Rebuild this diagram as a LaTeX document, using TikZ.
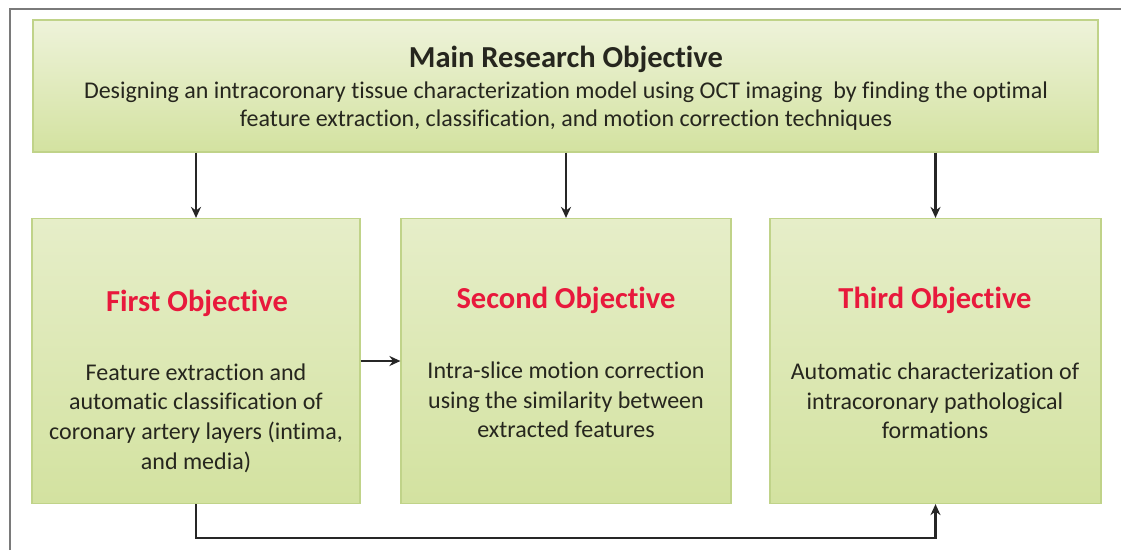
\documentclass[tikz,border=0pt]{standalone}
\usepackage{fontspec}
\setmainfont[Ligatures={NoCommon}]{Carlito}
\usetikzlibrary{arrows.meta,calc}
\definecolor{boxtop}{HTML}{EEF3DA}
\definecolor{boxbot}{HTML}{D3E2A0}
\definecolor{boxedge}{HTML}{C0D389}
\definecolor{objred}{HTML}{E8193C}
\definecolor{txt}{HTML}{26261E}
\definecolor{framegray}{HTML}{7A7A7A}
\tikzset{
  mainbox/.style={draw=boxedge, line width=1.2pt, top color=boxtop, bottom color=boxbot, minimum width=1065pt, minimum height=132pt, inner sep=0pt},
  objbox/.style={draw=boxedge, line width=1.2pt, top color=boxtop!70!boxbot, bottom color=boxbot, minimum height=285pt, inner sep=0pt},
  maintitle/.style={font=\fontsize{30.5}{34}\selectfont\bfseries, text=txt},
  mainbody/.style={font=\fontsize{24}{28}\selectfont, text=txt, align=center},
  objtitle/.style={font=\fontsize{30.5}{34}\selectfont\bfseries, text=objred},
  objbody/.style={font=\fontsize{24}{29.7}\selectfont, text=txt, align=center},
  conn/.style={draw=black!85, line width=2.2pt, -{Stealth[length=11pt,width=10pt]}},
}
\begin{document}
\begin{tikzpicture}[x=1pt,y=-1pt]
\useasboundingbox (0,0) rectangle (1121,550);
\fill[white] (0,0) rectangle (1121,550);
% frame
\draw[framegray, line width=1.5pt] (10,550) -- (10,9) -- (1121,9);
% main box
\node[mainbox] (main) at (565.5,86) {};
\node[maintitle] (mt) at (566,59) {Main Research Objective};
\node[mainbody] (mb) at (566,106) {Designing an intracoronary tissue characterization model using OCT imaging\ \ by finding the optimal\\feature extraction, classification, and motion correction techniques};
% objective boxes
\node[objbox, minimum width=328pt] (first) at (196,361) {};
\node[objbox, minimum width=330pt] (second) at (566,361) {};
\node[objbox, minimum width=331pt] (third) at (935.5,361) {};
\node[objtitle] (ft) at (197,303) {First Objective};
\node[objtitle] (st) at (566,300) {Second Objective};
\node[objtitle] (tt) at (935,300) {Third Objective};
\node[objbody] (fb) at (196,418) {Feature extraction and\\automatic classification of\\coronary artery layers (intima,\\and media)};
\node[objbody] (sb) at (566,400) {Intra-slice motion correction\\using the similarity between\\extracted features};
\node[objbody] (tb) at (935,401) {Automatic characterization of\\intracoronary pathological\\formations};
% connectors
\draw[conn] (first.north |- main.south) -- (first.north);
\draw[conn] (second.north |- main.south) -- (second.north);
\draw[conn] (third.north |- main.south) -- (third.north);
\draw[conn] (first.east) -- (second.west);
\draw[conn] (first.south) -- ++(0,34) -| (third.south);
\end{tikzpicture}
\end{document}
